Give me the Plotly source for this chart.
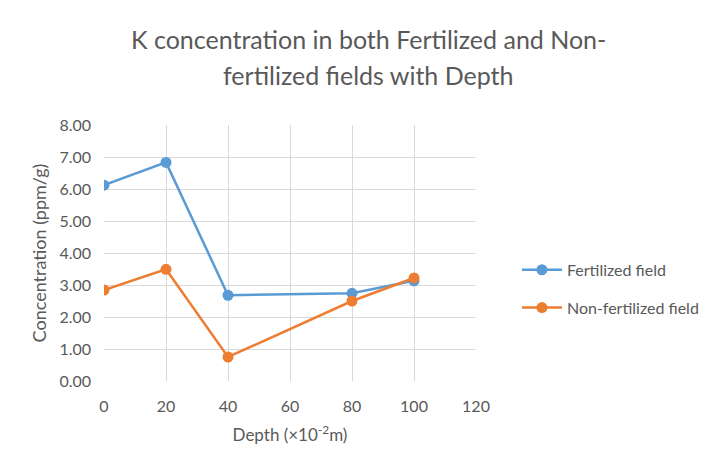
import plotly.graph_objects as go

depth = [0, 20, 40, 80, 100]
fertilized = [6.12, 6.83, 2.68, 2.74, 3.13]
non_fertilized = [2.84, 3.49, 0.75, 2.50, 3.22]

title_lines = ["K concentration in both Fertilized and Non-",
               "fertilized fields with Depth"]

FONT = "Lato, Open Sans, sans-serif"
GREY = "#595959"

fig = go.Figure()
fig.add_trace(go.Scatter(
    x=depth, y=fertilized, name="Fertilized field", mode="lines+markers",
    legendgroup="fert",
    line=dict(color="#5B9BD5", width=2.5),
    marker=dict(color="#5B9BD5", size=11),
))
fig.add_trace(go.Scatter(
    x=depth, y=non_fertilized, name="Non-fertilized field", mode="lines+markers",
    legendgroup="nonfert",
    line=dict(color="#ED7D31", width=2.5),
    marker=dict(color="#ED7D31", size=11),
))

for i, line in enumerate(title_lines):
    fig.add_annotation(
        text=line, xref="paper", yref="paper", x=(368 - 104) / 372,
        y=(381 - 39 - 36 * i) / 256, showarrow=False, xanchor="center",
        yanchor="middle", font=dict(family=FONT, size=25, color=GREY),
    )

fig.update_layout(
    width=708, height=449,
    margin=dict(l=104, r=232, t=125, b=68, autoexpand=False),
    paper_bgcolor="white", plot_bgcolor="white",
    font=dict(family=FONT, size=16, color=GREY),
    showlegend=True,
    legend=dict(x=1.11, y=0.36, xanchor="left", yanchor="middle",
                font=dict(size=16, color=GREY), tracegroupgap=14,
                itemwidth=40),
)
fig.update_xaxes(
    range=[0, 120], dtick=20, tick0=0, showgrid=True, gridcolor="#D9D9D9",
    gridwidth=1, zeroline=False, showline=False, ticks="",
    ticklabelstandoff=14, automargin=False,
    tickfont=dict(size=16, color=GREY),
    title=dict(text="Depth (×10<sup>-2</sup>m)", standoff=15,
               font=dict(size=17, color=GREY)),
)
fig.update_yaxes(
    range=[0, 8], dtick=1, tickformat=".2f", showgrid=True, gridcolor="#D9D9D9",
    gridwidth=1, zeroline=False, showline=False, ticks="",
    ticklabelstandoff=12, automargin=False,
    tickfont=dict(size=16, color=GREY),
    title=dict(text="Concentration (ppm/g)", standoff=8,
               font=dict(size=18, color=GREY)),
)

fig.write_html("out.html")
